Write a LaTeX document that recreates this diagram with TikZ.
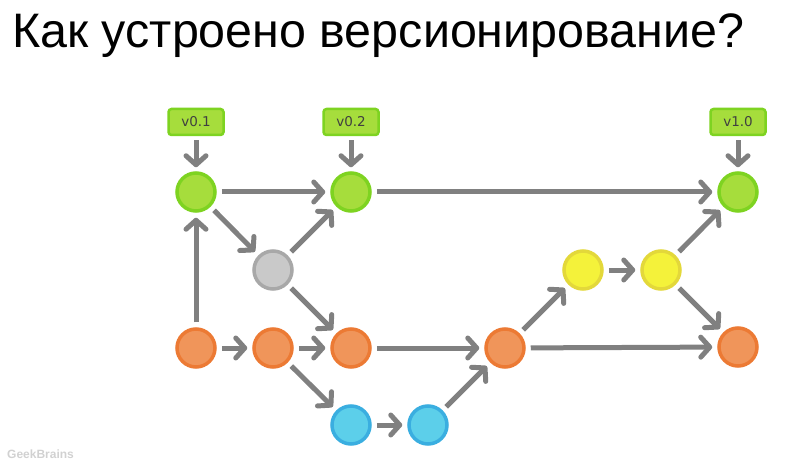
\documentclass[tikz,border=0pt]{standalone}
\usepackage{fontspec}
\setmainfont{Liberation Sans}
\newfontfamily\tagfont{DejaVu Sans}
\usetikzlibrary{arrows.meta}
\definecolor{arr}{HTML}{808080}
\definecolor{gR}{HTML}{7ED321}
\definecolor{gF}{HTML}{A6DD3C}
\definecolor{oR}{HTML}{EC7A34}
\definecolor{oF}{HTML}{F0955A}
\definecolor{bR}{HTML}{3AAEE0}
\definecolor{bF}{HTML}{5CCFEA}
\definecolor{yR}{HTML}{E3D83A}
\definecolor{yF}{HTML}{F4F23A}
\definecolor{sR}{HTML}{A8A8A8}
\definecolor{sF}{HTML}{C9C9C9}
\tikzset{
  commit/.style={circle, minimum size=38pt, inner sep=0pt, line width=3.5pt},
  gc/.style={commit, draw=gR, fill=gF},
  oc/.style={commit, draw=oR, fill=oF},
  bc/.style={commit, draw=bR, fill=bF},
  yc/.style={commit, draw=yR, fill=yF},
  sc/.style={commit, draw=sR, fill=sF},
  tagbox/.style={draw=gR, fill=gF, line width=2.5pt, rounded corners=3pt, minimum width=55pt, minimum height=26pt, inner sep=0pt, font=\tagfont\fontsize{13.5}{14}\selectfont, text=black!75},
  link/.style={draw=arr, line width=5pt, -{Straight Barb[length=9pt, width=20pt, line cap=round, line join=round]}, shorten <=5pt, shorten >=5pt},
}
\begin{document}
\begin{tikzpicture}[x=1pt, y=-1pt]
\useasboundingbox (0,0) rectangle (796,468);
\node[anchor=base west, inner sep=0pt, font=\fontsize{48.4}{50}\selectfont] (title) at (12,48) {Как устроено версионирование?};
\node[anchor=base west, inner sep=0pt, font=\fontsize{12}{13}\selectfont\bfseries, text=black!18] (gb) at (7,458) {GeekBrains};

\node[gc] (g1) at (196,192) {};
\node[gc] (g2) at (351,192) {};
\node[gc] (g3) at (738,192) {};
\node[sc] (s1) at (273,270) {};
\node[oc] (o1) at (196,348) {};
\node[oc] (o2) at (273,348) {};
\node[oc] (o3) at (351,348) {};
\node[oc] (o4) at (505,348) {};
\node[oc] (o5) at (738,347) {};
\node[bc] (b1) at (351,425) {};
\node[bc] (b2) at (428,425) {};
\node[yc] (y1) at (583,270) {};
\node[yc] (y2) at (661,270) {};

\node[tagbox] (t1) at (196,122) {v0.1};
\node[tagbox] (t2) at (351,122) {v0.2};
\node[tagbox] (t3) at (738,122) {v1.0};

\draw[link, shorten <=4pt, shorten >=4pt] (t1) -- (g1);
\draw[link, shorten <=4pt, shorten >=4pt] (t2) -- (g2);
\draw[link, shorten <=4pt, shorten >=4pt] (t3) -- (g3);

\draw[link] (g1) -- (g2);
\draw[link] (g2) -- (g3);
\draw[link] (g1) -- (s1);
\draw[link] (s1) -- (g2);
\draw[link] (s1) -- (o3);
\draw[link] (o1) -- (g1);
\draw[link] (o1) -- (o2);
\draw[link] (o2) -- (o3);
\draw[link] (o3) -- (o4);
\draw[link] (o4) -- (o5);
\draw[link] (o2) -- (b1);
\draw[link] (b1) -- (b2);
\draw[link] (b2) -- (o4);
\draw[link] (o4) -- (y1);
\draw[link] (y1) -- (y2);
\draw[link] (y2) -- (g3);
\draw[link] (y2) -- (o5);
\end{tikzpicture}
\end{document}
